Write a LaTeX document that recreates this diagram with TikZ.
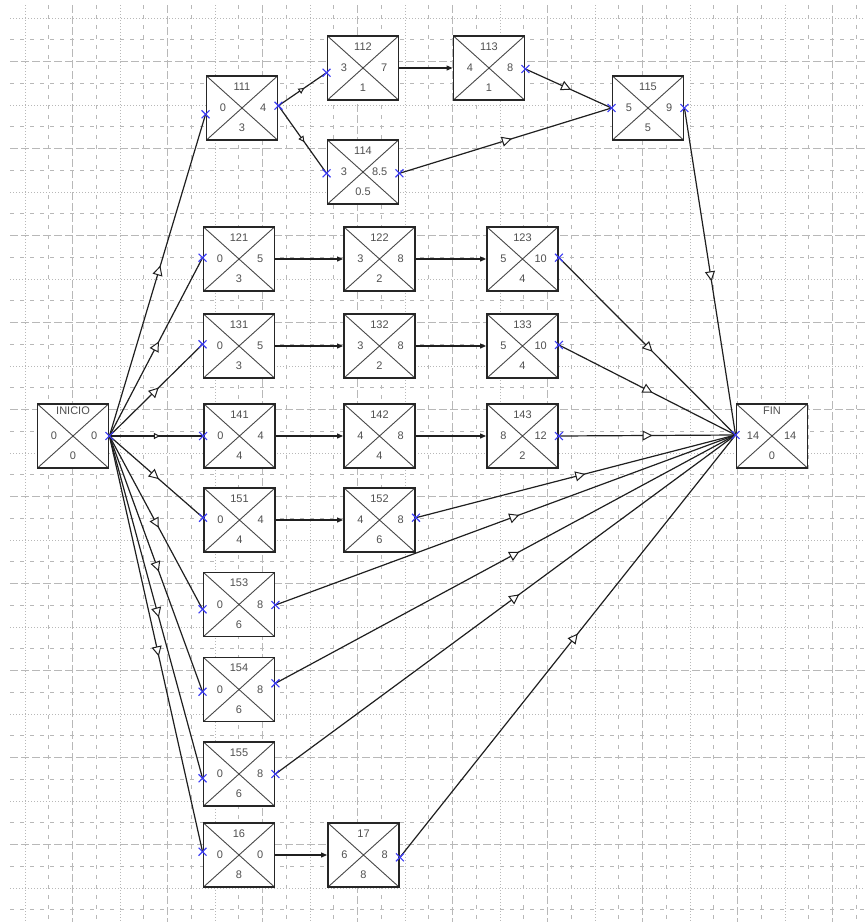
\documentclass[tikz,border=0pt]{standalone}
\usepackage{fontspec}
\setmainfont{Liberation Sans}
\usetikzlibrary{arrows.meta,decorations.markings,shapes.misc}
\definecolor{gridc}{HTML}{B8B8B8}
\definecolor{xblue}{HTML}{3C3CF5}
\definecolor{txtc}{HTML}{505050}
\tikzset{
  gdot/.style={gridc, line width=0.9pt, dash pattern=on 1pt off 2pt},
  gshort/.style={gridc, line width=0.9pt, dash pattern=on 4pt off 6pt},
  glong/.style={gridc, line width=0.9pt, dash pattern=on 8pt off 3pt},
  diag/.style={black!72, line width=0.9pt},
  act/.style={draw=black!85, line width=1.9pt, fill=white, minimum width=71pt,
    minimum height=64pt, inner sep=0pt,
    path picture={\draw[diag] (path picture bounding box.north west) -- (path picture bounding box.south east)
      (path picture bounding box.south west) -- (path picture bounding box.north east);}},
  lab/.style={text=txtc, font=\fontsize{11}{12}\selectfont, inner sep=0pt},
  xmk/.style={inner sep=0pt, minimum size=7.5pt},
  xcross/.style={xblue, line width=1.1pt},
  conn/.style={draw=black!88, line width=1.2pt},
  midbig/.style={postaction={decorate}, decoration={markings, mark=at position 0.53 with
    {\arrow{Triangle[length=10pt,width=10pt,fill=white,line width=1pt]}}}},
  midsmall/.style={postaction={decorate}, decoration={markings, mark=at position 0.54 with
    {\arrow{Triangle[length=6pt,width=6pt,fill=white,line width=1pt]}}}},
  endarr/.style={-{Triangle[length=6pt,width=5pt]}},
}
\newcommand\actv[8][21.5]{%
  \node[act] (n#2) at (#3,#4) {};
  \node[lab] (n#2t) at (#3,#4-#1) {#5};
  \node[lab] (n#2l) at (#3-19,#4) {#6};
  \node[lab,anchor=east] (n#2r) at (#3+24.5,#4) {#7};
  \node[lab] (n#2b) at (#3,#4+20) {#8};
}
\begin{document}
\begin{tikzpicture}[x=1pt,y=-1pt]
\useasboundingbox (0,0) rectangle (865,922);
% grid
\foreach \k in {0,...,35}{
  \pgfmathtruncatemacro\m{mod(\k,4)}
  \pgfmathsetmacro\xx{25+23.75*\k}
  \ifcase\m \draw[gdot] (\xx,5) -- (\xx,922);
  \or \draw[gshort] (\xx,5) -- (\xx,922);
  \or \draw[glong] (\xx,5) -- (\xx,922);
  \or \draw[gshort] (\xx,5) -- (\xx,922);
  \fi
}
\foreach \k in {0,...,41}{
  \pgfmathtruncatemacro\m{mod(\k,4)}
  \pgfmathsetmacro\yy{18+21.75*\k}
  \ifcase\m \draw[gdot] (10,\yy) -- (865,\yy);
  \or \draw[gshort] (10,\yy) -- (865,\yy);
  \or \draw[glong] (10,\yy) -- (865,\yy);
  \or \draw[gshort] (10,\yy) -- (865,\yy);
  \fi
}
% activities
\actv[25]{INICIO}{73}{436}{INICIO}{0}{0}{0}
\actv{111}{242}{108}{111}{0}{4}{3}
\actv{112}{363}{68}{112}{3}{7}{1}
\actv{113}{489}{68}{113}{4}{8}{1}
\actv{114}{363}{172}{114}{3}{8.5}{0.5}
\actv{115}{648}{108}{115}{5}{9}{5}
\actv{121}{239}{259}{121}{0}{5}{3}
\actv{122}{379.5}{259}{122}{3}{8}{2}
\actv{123}{522.5}{259}{123}{5}{10}{4}
\actv{131}{239}{346}{131}{0}{5}{3}
\actv{132}{379.5}{346}{132}{3}{8}{2}
\actv{133}{522.5}{346}{133}{5}{10}{4}
\actv{141}{239.5}{436}{141}{0}{4}{4}
\actv{142}{379.5}{436}{142}{4}{8}{4}
\actv{143}{522.5}{436}{143}{8}{12}{2}
\actv{151}{239.5}{520}{151}{0}{4}{4}
\actv{152}{379.5}{520}{152}{4}{8}{6}
\actv{153}{239}{604.5}{153}{0}{8}{6}
\actv{154}{239}{689.5}{154}{0}{8}{6}
\actv{155}{239}{774}{155}{0}{8}{6}
\actv{16}{239}{855}{16}{0}{0}{8}
\actv{17}{363.5}{855}{17}{6}{8}{8}
\actv[25]{FIN}{772}{436}{FIN}{14}{14}{0}
% connection points
\node[xmk] (xINe) at (nINICIO.east) {};
\node[xmk] (x111w) at ([yshift=-6.3pt]n111.west) {};
\node[xmk] (x111e) at ([yshift=2.3pt]n111.east) {};
\node[xmk] (x112w) at ([yshift=-4.7pt]n112.west) {};
\node[xmk] (x113e) at ([yshift=-1pt]n113.east) {};
\node[xmk] (x114w) at ([yshift=-1.3pt]n114.west) {};
\node[xmk] (x114e) at ([yshift=-1.3pt]n114.east) {};
\node[xmk] (x115w) at (n115.west) {};
\node[xmk] (x115e) at (n115.east) {};
\node[xmk] (x121w) at ([yshift=1.3pt]n121.west) {};
\node[xmk] (x123e) at ([yshift=1.3pt]n123.east) {};
\node[xmk] (x131w) at ([yshift=1.7pt]n131.west) {};
\node[xmk] (x133e) at ([yshift=1pt]n133.east) {};
\node[xmk] (x141w) at (n141.west) {};
\node[xmk] (x143e) at (n143.east) {};
\node[xmk] (x151w) at ([yshift=2.3pt]n151.west) {};
\node[xmk] (x152e) at ([yshift=2.3pt]n152.east) {};
\node[xmk] (x153w) at ([yshift=-4.8pt]n153.west) {};
\node[xmk] (x153e) at ([yshift=-0.5pt]n153.east) {};
\node[xmk] (x154w) at ([yshift=-2.2pt]n154.west) {};
\node[xmk] (x154e) at ([yshift=6.2pt]n154.east) {};
\node[xmk] (x155w) at ([yshift=-4.3pt]n155.west) {};
\node[xmk] (x155e) at (n155.east) {};
\node[xmk] (x16w) at ([yshift=3.3pt]n16.west) {};
\node[xmk] (x17e) at ([yshift=-2.3pt]n17.east) {};
\node[xmk] (xFINw) at ([yshift=1pt]nFIN.west) {};
% connectors from INICIO
\draw[conn,midbig] (xINe.center) -- (x111w.center);
\draw[conn,midbig] (xINe.center) -- (x121w.center);
\draw[conn,midbig] (xINe.center) -- (x131w.center);
\draw[conn,midsmall] (xINe.center) -- (x141w.center);
\draw[conn,midbig] (xINe.center) -- (x151w.center);
\draw[conn,midbig] (xINe.center) -- (x153w.center);
\draw[conn,midbig] (xINe.center) -- (x154w.center);
\draw[conn,midbig] (xINe.center) -- (x155w.center);
\draw[conn,midbig] (xINe.center) -- (x16w.center);
% upper branch
\draw[conn,midsmall] (x111e.center) -- (x112w.center);
\draw[conn,midsmall] (x111e.center) -- (x114w.center);
\draw[conn,endarr] (n112.east) -- (n113.west);
\draw[conn,midbig] (x113e.center) -- (x115w.center);
\draw[conn,midbig] (x114e.center) -- (x115w.center);
\draw[conn,midbig] (x115e.center) -- (xFINw.center);
% chains
\draw[conn,endarr] (n121.east) -- (n122.west);
\draw[conn,endarr] (n122.east) -- (n123.west);
\draw[conn,endarr] (n131.east) -- (n132.west);
\draw[conn,endarr] (n132.east) -- (n133.west);
\draw[conn,endarr] (n141.east) -- (n142.west);
\draw[conn,endarr] (n142.east) -- (n143.west);
\draw[conn,endarr] (n151.east) -- (n152.west);
\draw[conn,endarr] (n16.east) -- (n17.west);
% into FIN
\draw[conn,midbig] (x123e.center) -- (xFINw.center);
\draw[conn,midbig] (x133e.center) -- (xFINw.center);
\draw[conn,midbig] (x143e.center) -- (xFINw.center);
\draw[conn,midbig] (x152e.center) -- (xFINw.center);
\draw[conn,midbig] (x153e.center) -- (xFINw.center);
\draw[conn,midbig] (x154e.center) -- (xFINw.center);
\draw[conn,midbig] (x155e.center) -- (xFINw.center);
\draw[conn,midbig] (x17e.center) -- (xFINw.center);
% blue connection crosses on top
\foreach \q in {xINe,x111w,x111e,x112w,x113e,x114w,x114e,x115w,x115e,x121w,x123e,x131w,x133e,x141w,x143e,x151w,x152e,x153w,x153e,x154w,x154e,x155w,x155e,x16w,x17e,xFINw}
  \draw[xcross] (\q.north west) -- (\q.south east) (\q.south west) -- (\q.north east);
\end{tikzpicture}
\end{document}
